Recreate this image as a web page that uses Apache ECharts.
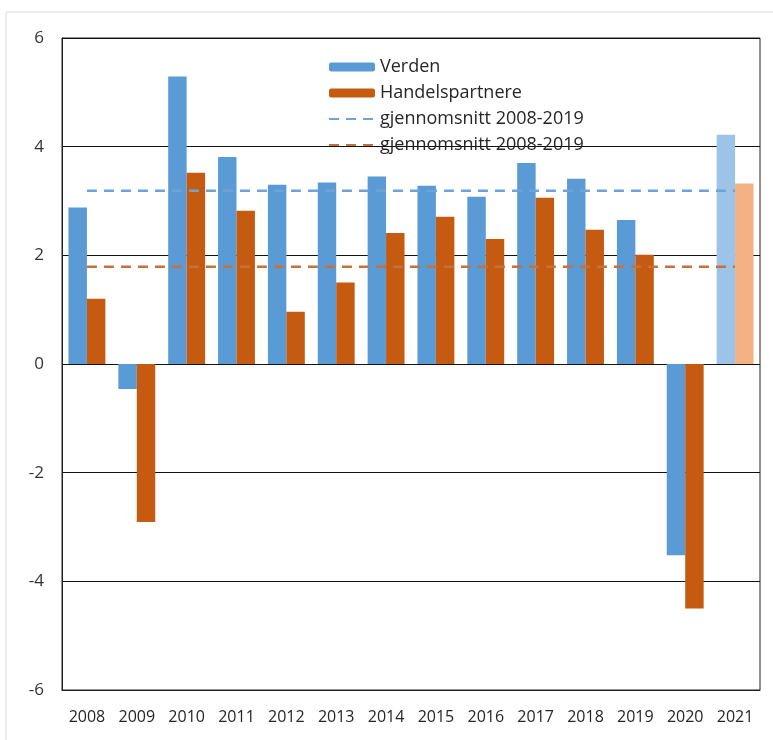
<!DOCTYPE html>
<html>
<head>
<meta charset="utf-8">
<script src="https://cdn.jsdelivr.net/npm/echarts@6/dist/echarts.min.js"></script>
<style>html,body{margin:0;padding:0;background:#fff;}#c{width:773px;height:740px;}</style>
</head>
<body>
<div id="c"></div>
<script>
var categories = ['2008','2009','2010','2011','2012','2013','2014','2015','2016','2017','2018','2019','2020','2021'];
var verden = [2.88, -0.46, 5.29, 3.81, 3.30, 3.34, 3.45, 3.28, 3.08, 3.70, 3.41, 2.65, -3.52, 4.22];
var handelspartnere = [1.20, -2.91, 3.52, 2.82, 0.96, 1.50, 2.41, 2.71, 2.30, 3.06, 2.47, 2.01, -4.50, 3.32];
var snittVerden = 3.19;
var snittHandel = 1.79;
var yTicks = [-6, -4, -2, 0, 2, 4, 6];

var blue = '#5b9bd5', orange = '#c55a11', blueLight = '#9dc3e6', orangeLight = '#f4b183';
var lastIdx = categories.length - 1;
function withForecast(arr, light) {
  return arr.map(function (v, i) {
    return i === lastIdx ? { value: v, itemStyle: { color: light } } : v;
  });
}
var chart = echarts.init(document.getElementById('c'));
chart.setOption({
  animation: false,
  textStyle: { fontFamily: 'Open Sans' },
  graphic: [{ type: 'rect', shape: { x: 6, y: 12, width: 800, height: 800 }, style: { fill: 'none', stroke: '#d9d9d9', lineWidth: 1 }, silent: true }],
  grid: { left: 62, right: 13, top: 38, bottom: 50, show: true, borderColor: '#222', borderWidth: 1, backgroundColor: 'transparent' },
  legend: {
    orient: 'vertical', left: 323, top: 53, itemGap: 8, itemWidth: 46, itemHeight: 9,
    textStyle: { fontSize: 18, color: '#262626', fontFamily: 'Open Sans' },
    data: ['Verden', 'Handelspartnere',
      { name: 'snittV', itemStyle: { opacity: 0 } },
      { name: 'snittH', itemStyle: { opacity: 0 } }],
    formatter: function (n) { return (n === 'snittV' || n === 'snittH') ? 'gjennomsnitt 2008-2019' : n; }
  },
  xAxis: {
    type: 'category', data: categories, boundaryGap: true,
    axisLine: { onZero: false, lineStyle: { color: '#222' } }, axisTick: { show: false },
    axisLabel: { fontSize: 16, color: '#262626', margin: 19 }
  },
  yAxis: {
    type: 'value', min: -6, max: 6, interval: 2,
    axisLine: { show: true, lineStyle: { color: '#222' } }, axisTick: { show: false },
    splitLine: { lineStyle: { color: '#111', width: 1 } },
    axisLabel: { fontSize: 17, color: '#333', margin: 18,
      formatter: function (v) { return yTicks.indexOf(v) >= 0 ? String(v) : ''; } }
  },
  series: [
    { name: 'Verden', type: 'bar', data: withForecast(verden, blueLight), itemStyle: { color: blue }, barGap: '0%', barCategoryGap: '26%' },
    { name: 'Handelspartnere', type: 'bar', data: withForecast(handelspartnere, orangeLight), itemStyle: { color: orange } },
    { name: 'snittV', type: 'line', data: categories.map(function () { return snittVerden; }), symbol: 'none', showSymbol: false,
      lineStyle: { color: '#6fa3d8', width: 2.6, type: [10, 7] }, itemStyle: { color: '#6fa3d8' }, z: 5 },
    { name: 'snittH', type: 'line', data: categories.map(function () { return snittHandel; }), symbol: 'none', showSymbol: false,
      lineStyle: { color: '#c8703a', width: 2.6, type: [10, 7] }, itemStyle: { color: '#c8703a' }, z: 5 }
  ]
});
</script>
</body>
</html>
